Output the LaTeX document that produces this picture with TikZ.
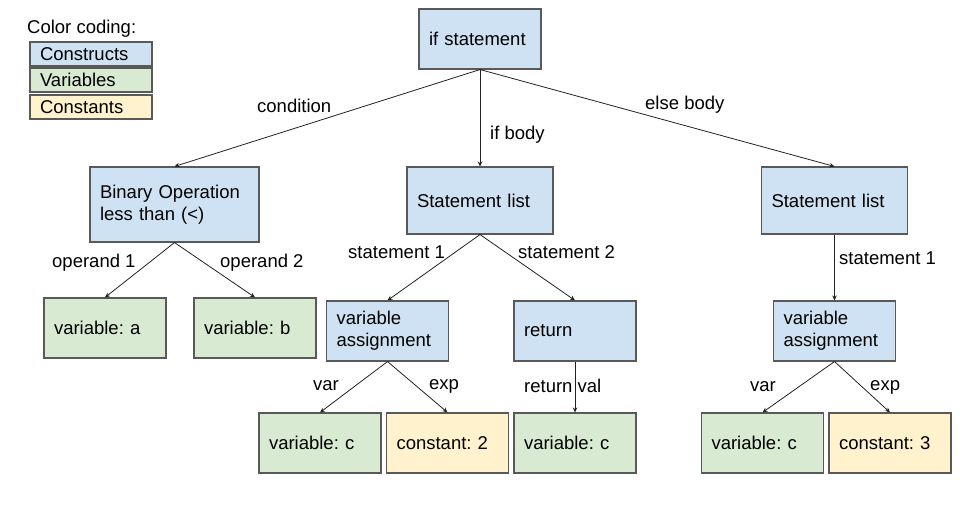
\documentclass[tikz,border=0pt]{standalone}
\usepackage{fontspec}
\setmainfont{Liberation Sans}
\frenchspacing
\usetikzlibrary{arrows.meta}
\definecolor{cblue}{HTML}{CFE2F3}
\definecolor{cgreen}{HTML}{D9EAD3}
\definecolor{cyellow}{HTML}{FFF2CC}
\definecolor{cborder}{HTML}{595959}
\definecolor{cline}{HTML}{222222}
\begin{document}
\begin{tikzpicture}[x=1pt,y=-1pt,
  font=\fontsize{18.5}{22}\selectfont\frenchspacing,
  boxbase/.style={draw=cborder, line width=1.1pt, inner xsep=10pt, inner ysep=0pt,
    align=left, minimum height=60pt, text width=102pt, minimum width=122pt},
  constructbox/.style={boxbase, fill=cblue},
  varbox/.style={boxbase, fill=cgreen},
  constbox/.style={boxbase, fill=cyellow},
  legendbox/.style={draw=cborder, line width=1.1pt, inner xsep=10pt, inner ysep=0pt,
    align=left, minimum height=24pt, text width=102pt, minimum width=122pt},
  edgelabel/.style={anchor=west, inner sep=0pt},
  conn/.style={draw=cline, line width=0.8pt, -{Stealth[length=5pt,width=4.5pt]}}
]
\useasboundingbox (0,0) rectangle (960,514);

% legend
\node[anchor=west, inner sep=0pt] (legtitle) at (27,29) {Color coding:};
\node[legendbox, fill=cblue] (legc) at (91,54) {Constructs};
\node[legendbox, fill=cgreen] (legv) at (91,80) {Variables};
\node[legendbox, fill=cyellow] (legk) at (91,107) {Constants};

% nodes
\node[constructbox] (ifs) at (480,39) {if statement};
\node[constructbox, minimum width=169pt, text width=149pt, minimum height=75pt] (binop) at (174.5,204.5) {Binary Operation\\less than (<)};
\node[constructbox, minimum width=146pt, text width=126pt, minimum height=67pt] (sl1) at (480,200.5) {Statement list};
\node[constructbox, minimum width=146pt, text width=126pt, minimum height=67pt] (sl2) at (834.5,200.5) {Statement list};

\node[varbox] (va) at (105,328) {variable: a};
\node[varbox] (vb) at (255,328) {variable: b};

\node[constructbox] (asg1) at (387.5,331) {variable\\assignment};
\node[constructbox] (ret) at (575,331) {return};
\node[constructbox] (asg2) at (834.5,331) {variable\\assignment};

\node[varbox] (vc1) at (320,443) {variable: c};
\node[constbox] (c2) at (447.5,443) {constant: 2};
\node[varbox] (vc2) at (575,443) {variable: c};
\node[varbox] (vc3) at (762.5,443) {variable: c};
\node[constbox] (c3) at (890,443) {constant: 3};

% connectors
\draw[conn] (ifs.south) -- (binop.north);
\draw[conn] (ifs.south) -- (sl1.north);
\draw[conn] (ifs.south) -- (sl2.north);
\draw[conn] (binop.south) -- (va.north);
\draw[conn] (binop.south) -- (vb.north);
\draw[conn] (sl1.south) -- (asg1.north);
\draw[conn] (sl1.south) -- (ret.north);
\draw[conn] (asg1.south) -- (vc1.north);
\draw[conn] (asg1.south) -- (c2.north);
\draw[conn] (ret.south) -- (vc2.north);
\draw[conn] (sl2.south) -- (asg2.north);
\draw[conn] (asg2.south) -- (vc3.north);
\draw[conn] (asg2.south) -- (c3.north);

% labels
\node[edgelabel] (lcond) at (257,106) {condition};
\node[edgelabel] (lifb) at (490,135) {if body};
\node[edgelabel] (lelse) at (645,105) {else body};
\node[edgelabel] (lop1) at (52,263) {operand 1};
\node[edgelabel] (lop2) at (220,263) {operand 2};
\node[edgelabel] (ls1) at (348,252) {statement 1};
\node[edgelabel] (ls2) at (518,252) {statement 2};
\node[edgelabel] (lvar1) at (313,386) {var};
\node[edgelabel] (lexp1) at (429,386) {exp};
\node[edgelabel] (lret) at (524,386) {return val};
\node[edgelabel] (ls3) at (839,258) {statement 1};
\node[edgelabel] (lvar2) at (750,387) {var};
\node[edgelabel] (lexp2) at (870,387) {exp};
\end{tikzpicture}
\end{document}
